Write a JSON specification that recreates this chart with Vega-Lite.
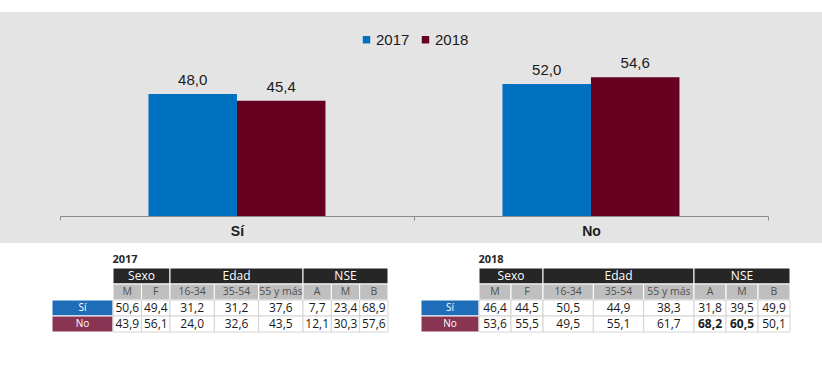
{
  "$schema": "https://vega.github.io/schema/vega-lite/v6.json",
  "background": "#ffffff",
  "padding": {"top": 12, "left": 0, "right": 0, "bottom": 0},
  "spacing": 10,
  "datasets": {
    "bars": [
      {"cat": "Sí", "year": "2017", "value": 48.0},
      {"cat": "Sí", "year": "2018", "value": 45.4},
      {"cat": "No", "year": "2017", "value": 52.0},
      {"cat": "No", "year": "2018", "value": 54.6}
    ],
    "cells": [
      {"year": "2017", "group": "Sexo", "col": "M", "row": "Sí", "value": 50.6},
      {"year": "2017", "group": "Sexo", "col": "F", "row": "Sí", "value": 49.4},
      {"year": "2017", "group": "Edad", "col": "16-34", "row": "Sí", "value": 31.2},
      {"year": "2017", "group": "Edad", "col": "35-54", "row": "Sí", "value": 31.2},
      {"year": "2017", "group": "Edad", "col": "55 y más", "row": "Sí", "value": 37.6},
      {"year": "2017", "group": "NSE", "col": "A", "row": "Sí", "value": 7.7},
      {"year": "2017", "group": "NSE", "col": "M", "row": "Sí", "value": 23.4},
      {"year": "2017", "group": "NSE", "col": "B", "row": "Sí", "value": 68.9},
      {"year": "2017", "group": "Sexo", "col": "M", "row": "No", "value": 43.9},
      {"year": "2017", "group": "Sexo", "col": "F", "row": "No", "value": 56.1},
      {"year": "2017", "group": "Edad", "col": "16-34", "row": "No", "value": 24.0},
      {"year": "2017", "group": "Edad", "col": "35-54", "row": "No", "value": 32.6},
      {"year": "2017", "group": "Edad", "col": "55 y más", "row": "No", "value": 43.5},
      {"year": "2017", "group": "NSE", "col": "A", "row": "No", "value": 12.1},
      {"year": "2017", "group": "NSE", "col": "M", "row": "No", "value": 30.3},
      {"year": "2017", "group": "NSE", "col": "B", "row": "No", "value": 57.6},
      {"year": "2018", "group": "Sexo", "col": "M", "row": "Sí", "value": 46.4},
      {"year": "2018", "group": "Sexo", "col": "F", "row": "Sí", "value": 44.5},
      {"year": "2018", "group": "Edad", "col": "16-34", "row": "Sí", "value": 50.5},
      {"year": "2018", "group": "Edad", "col": "35-54", "row": "Sí", "value": 44.9},
      {"year": "2018", "group": "Edad", "col": "55 y más", "row": "Sí", "value": 38.3},
      {"year": "2018", "group": "NSE", "col": "A", "row": "Sí", "value": 31.8},
      {"year": "2018", "group": "NSE", "col": "M", "row": "Sí", "value": 39.5},
      {"year": "2018", "group": "NSE", "col": "B", "row": "Sí", "value": 49.9},
      {"year": "2018", "group": "Sexo", "col": "M", "row": "No", "value": 53.6},
      {"year": "2018", "group": "Sexo", "col": "F", "row": "No", "value": 55.5},
      {"year": "2018", "group": "Edad", "col": "16-34", "row": "No", "value": 49.5},
      {"year": "2018", "group": "Edad", "col": "35-54", "row": "No", "value": 55.1},
      {"year": "2018", "group": "Edad", "col": "55 y más", "row": "No", "value": 61.7},
      {"year": "2018", "group": "NSE", "col": "A", "row": "No", "value": 68.2},
      {"year": "2018", "group": "NSE", "col": "M", "row": "No", "value": 60.5},
      {"year": "2018", "group": "NSE", "col": "B", "row": "No", "value": 50.1}
    ]
  },
  "vconcat": [
    {
      "width": 822,
      "height": 231,
      "view": {"fill": "#e4e4e4", "stroke": null},
      "data": {"name": "bars"},
      "encoding": {
        "x": {
          "field": "cat", "type": "nominal", "sort": ["Sí", "No"],
          "scale": {"paddingInner": 0, "paddingOuter": 0.161, "align": 0.526},
          "axis": {
            "title": null, "orient": "bottom", "offset": -27,
            "domainColor": "#8c8c8c", "domainDash": [0, 60, 708, 54],
            "tickBand": "extent", "tickColor": "#8c8c8c", "tickSize": 4,
            "labelAngle": 0, "labelFontSize": 14, "labelFontWeight": "bold",
            "labelColor": "#1a1a1a", "labelFont": "Liberation Sans", "labelPadding": 4
          }
        },
        "xOffset": {"field": "year", "type": "nominal", "scale": {"paddingInner": 0, "paddingOuter": 1.08}},
        "y": {"field": "value", "type": "quantitative", "scale": {"domain": [-10.63, 80.31], "nice": false, "zero": false}, "axis": null}
      },
      "layer": [
        {
          "mark": {"type": "bar"},
          "encoding": {
            "y2": {"datum": 0},
            "color": {
              "field": "year", "type": "nominal",
              "scale": {"domain": ["2017", "2018"], "range": ["#0070c0", "#650021"]},
              "legend": {
                "title": null, "orient": "none", "legendX": 359, "legendY": 20,
                "direction": "horizontal", "symbolType": "square", "symbolSize": 55,
                "symbolStrokeWidth": 0, "labelFontSize": 15, "labelFont": "Liberation Sans",
                "labelColor": "#1a1a1a", "columnPadding": 8, "labelOffset": 2, "padding": 0
              }
            }
          }
        },
        {
          "mark": {"type": "text", "baseline": "bottom", "dy": -6, "fontSize": 15, "font": "Liberation Sans", "color": "#1a1a1a"},
          "encoding": {"text": {"field": "value", "type": "quantitative", "format": ".1f"}}
        }
      ]
    },
    {
      "hconcat": [
        {"width": 52, "height": 64, "data": {"values": []}, "mark": "point"},
        {
          "width": 61, "height": 64,
          "data": {"name": "cells"},
          "transform": [{"filter": "datum.year == '2017'"}, {"aggregate": [{"op": "count", "as": "n"}], "groupby": ["row"]}],
          "layer": [
            {"mark": {"type": "rect", "stroke": "#ffffff", "strokeWidth": 1},
             "encoding": {"y": {"field": "row", "type": "nominal", "scale": {"domain": ["h", "s", "Sí", "No"], "paddingInner": 0, "paddingOuter": 0}, "axis": null},
                          "fill": {"condition": {"test": "datum.row == 'Sí'", "value": "#1f6db8"}, "value": "#8a3454"}}},
            {"mark": {"type": "text", "color": "#ffffff", "fontSize": 10, "font": "Open Sans"},
             "encoding": {"y": {"field": "row", "type": "nominal", "scale": {"domain": ["h", "s", "Sí", "No"], "paddingInner": 0, "paddingOuter": 0}, "axis": null}, "text": {"field": "row"}}}
          ]
        },
        {
          "width": 57, "height": 64,
          "title": {"text": "2017", "anchor": "start", "fontSize": 11, "fontWeight": "bold", "color": "#262626", "offset": 3, "font": "Open Sans"},
          "data": {"name": "cells"},
          "transform": [{"filter": "datum.year == '2017' && datum.group == 'Sexo'"}],
          "layer": [
            {"transform": [{"aggregate": [{"op": "count", "as": "n"}], "groupby": ["group"]}],
             "mark": {"type": "rect", "fill": "#262626", "stroke": "#ffffff", "strokeWidth": 1},
             "encoding": {"y": {"datum": "h", "type": "nominal", "scale": {"domain": ["h", "s", "Sí", "No"], "paddingInner": 0, "paddingOuter": 0}, "axis": null}}},
            {"transform": [{"aggregate": [{"op": "count", "as": "n"}], "groupby": ["group"]}],
             "mark": {"type": "text", "color": "#ffffff", "fontSize": 12, "font": "Open Sans"},
             "encoding": {"y": {"datum": "h", "type": "nominal", "scale": {"domain": ["h", "s", "Sí", "No"], "paddingInner": 0, "paddingOuter": 0}, "axis": null}, "text": {"field": "group"}}},
            {"transform": [{"filter": "datum.row == 'Sí'"}],
             "mark": {"type": "rect", "fill": "#bfbfbf", "stroke": "#ffffff", "strokeWidth": 1},
             "encoding": {"x": {"field": "col", "type": "nominal", "scale": {"domain": ["M", "F"], "paddingInner": 0, "paddingOuter": 0}, "axis": null},
                          "y": {"datum": "s", "type": "nominal", "scale": {"domain": ["h", "s", "Sí", "No"], "paddingInner": 0, "paddingOuter": 0}, "axis": null}}},
            {"transform": [{"filter": "datum.row == 'Sí'"}],
             "mark": {"type": "text", "color": "#505050", "fontSize": 10.5, "font": "Open Sans"},
             "encoding": {"x": {"field": "col", "type": "nominal", "scale": {"domain": ["M", "F"], "paddingInner": 0, "paddingOuter": 0}, "axis": null},
                          "y": {"datum": "s", "type": "nominal", "scale": {"domain": ["h", "s", "Sí", "No"], "paddingInner": 0, "paddingOuter": 0}, "axis": null}, "text": {"field": "col"}}},
            {"mark": {"type": "rect", "fill": "#ffffff", "stroke": "#d4d4d4", "strokeWidth": 1},
             "encoding": {"x": {"field": "col", "type": "nominal", "scale": {"domain": ["M", "F"], "paddingInner": 0, "paddingOuter": 0}, "axis": null},
                          "y": {"field": "row", "type": "nominal", "scale": {"domain": ["h", "s", "Sí", "No"], "paddingInner": 0, "paddingOuter": 0}, "axis": null}}},
            {"transform": [{"filter": "!(datum.value >= 60 && datum.group == 'NSE')"}],
             "mark": {"type": "text", "color": "#1a1a1a", "fontSize": 12, "font": "Open Sans"},
             "encoding": {"x": {"field": "col", "type": "nominal", "scale": {"domain": ["M", "F"], "paddingInner": 0, "paddingOuter": 0}, "axis": null},
                          "y": {"field": "row", "type": "nominal", "scale": {"domain": ["h", "s", "Sí", "No"], "paddingInner": 0, "paddingOuter": 0}, "axis": null},
                          "text": {"field": "value", "type": "quantitative", "format": ".1f"}}}
          ]
        },
        {
          "width": 133, "height": 64,
          "data": {"name": "cells"},
          "transform": [{"filter": "datum.year == '2017' && datum.group == 'Edad'"}],
          "layer": [
            {"transform": [{"aggregate": [{"op": "count", "as": "n"}], "groupby": ["group"]}],
             "mark": {"type": "rect", "fill": "#262626", "stroke": "#ffffff", "strokeWidth": 1},
             "encoding": {"y": {"datum": "h", "type": "nominal", "scale": {"domain": ["h", "s", "Sí", "No"], "paddingInner": 0, "paddingOuter": 0}, "axis": null}}},
            {"transform": [{"aggregate": [{"op": "count", "as": "n"}], "groupby": ["group"]}],
             "mark": {"type": "text", "color": "#ffffff", "fontSize": 12, "font": "Open Sans"},
             "encoding": {"y": {"datum": "h", "type": "nominal", "scale": {"domain": ["h", "s", "Sí", "No"], "paddingInner": 0, "paddingOuter": 0}, "axis": null}, "text": {"field": "group"}}},
            {"transform": [{"filter": "datum.row == 'Sí'"}],
             "mark": {"type": "rect", "fill": "#bfbfbf", "stroke": "#ffffff", "strokeWidth": 1},
             "encoding": {"x": {"field": "col", "type": "nominal", "scale": {"domain": ["16-34", "35-54", "55 y más"], "paddingInner": 0, "paddingOuter": 0}, "axis": null},
                          "y": {"datum": "s", "type": "nominal", "scale": {"domain": ["h", "s", "Sí", "No"], "paddingInner": 0, "paddingOuter": 0}, "axis": null}}},
            {"transform": [{"filter": "datum.row == 'Sí'"}],
             "mark": {"type": "text", "color": "#505050", "fontSize": 10.5, "font": "Open Sans"},
             "encoding": {"x": {"field": "col", "type": "nominal", "scale": {"domain": ["16-34", "35-54", "55 y más"], "paddingInner": 0, "paddingOuter": 0}, "axis": null},
                          "y": {"datum": "s", "type": "nominal", "scale": {"domain": ["h", "s", "Sí", "No"], "paddingInner": 0, "paddingOuter": 0}, "axis": null}, "text": {"field": "col"}}},
            {"mark": {"type": "rect", "fill": "#ffffff", "stroke": "#d4d4d4", "strokeWidth": 1},
             "encoding": {"x": {"field": "col", "type": "nominal", "scale": {"domain": ["16-34", "35-54", "55 y más"], "paddingInner": 0, "paddingOuter": 0}, "axis": null},
                          "y": {"field": "row", "type": "nominal", "scale": {"domain": ["h", "s", "Sí", "No"], "paddingInner": 0, "paddingOuter": 0}, "axis": null}}},
            {"transform": [{"filter": "!(datum.value >= 60 && datum.group == 'NSE')"}],
             "mark": {"type": "text", "color": "#1a1a1a", "fontSize": 12, "font": "Open Sans"},
             "encoding": {"x": {"field": "col", "type": "nominal", "scale": {"domain": ["16-34", "35-54", "55 y más"], "paddingInner": 0, "paddingOuter": 0}, "axis": null},
                          "y": {"field": "row", "type": "nominal", "scale": {"domain": ["h", "s", "Sí", "No"], "paddingInner": 0, "paddingOuter": 0}, "axis": null},
                          "text": {"field": "value", "type": "quantitative", "format": ".1f"}}}
          ]
        },
        {
          "width": 85, "height": 64,
          "data": {"name": "cells"},
          "transform": [{"filter": "datum.year == '2017' && datum.group == 'NSE'"}],
          "layer": [
            {"transform": [{"aggregate": [{"op": "count", "as": "n"}], "groupby": ["group"]}],
             "mark": {"type": "rect", "fill": "#262626", "stroke": "#ffffff", "strokeWidth": 1},
             "encoding": {"y": {"datum": "h", "type": "nominal", "scale": {"domain": ["h", "s", "Sí", "No"], "paddingInner": 0, "paddingOuter": 0}, "axis": null}}},
            {"transform": [{"aggregate": [{"op": "count", "as": "n"}], "groupby": ["group"]}],
             "mark": {"type": "text", "color": "#ffffff", "fontSize": 12, "font": "Open Sans"},
             "encoding": {"y": {"datum": "h", "type": "nominal", "scale": {"domain": ["h", "s", "Sí", "No"], "paddingInner": 0, "paddingOuter": 0}, "axis": null}, "text": {"field": "group"}}},
            {"transform": [{"filter": "datum.row == 'Sí'"}],
             "mark": {"type": "rect", "fill": "#bfbfbf", "stroke": "#ffffff", "strokeWidth": 1},
             "encoding": {"x": {"field": "col", "type": "nominal", "scale": {"domain": ["A", "M", "B"], "paddingInner": 0, "paddingOuter": 0}, "axis": null},
                          "y": {"datum": "s", "type": "nominal", "scale": {"domain": ["h", "s", "Sí", "No"], "paddingInner": 0, "paddingOuter": 0}, "axis": null}}},
            {"transform": [{"filter": "datum.row == 'Sí'"}],
             "mark": {"type": "text", "color": "#505050", "fontSize": 10.5, "font": "Open Sans"},
             "encoding": {"x": {"field": "col", "type": "nominal", "scale": {"domain": ["A", "M", "B"], "paddingInner": 0, "paddingOuter": 0}, "axis": null},
                          "y": {"datum": "s", "type": "nominal", "scale": {"domain": ["h", "s", "Sí", "No"], "paddingInner": 0, "paddingOuter": 0}, "axis": null}, "text": {"field": "col"}}},
            {"mark": {"type": "rect", "fill": "#ffffff", "stroke": "#d4d4d4", "strokeWidth": 1},
             "encoding": {"x": {"field": "col", "type": "nominal", "scale": {"domain": ["A", "M", "B"], "paddingInner": 0, "paddingOuter": 0}, "axis": null},
                          "y": {"field": "row", "type": "nominal", "scale": {"domain": ["h", "s", "Sí", "No"], "paddingInner": 0, "paddingOuter": 0}, "axis": null}}},
            {"transform": [{"filter": "!(datum.value >= 60 && datum.group == 'NSE')"}],
             "mark": {"type": "text", "color": "#1a1a1a", "fontSize": 12, "font": "Open Sans"},
             "encoding": {"x": {"field": "col", "type": "nominal", "scale": {"domain": ["A", "M", "B"], "paddingInner": 0, "paddingOuter": 0}, "axis": null},
                          "y": {"field": "row", "type": "nominal", "scale": {"domain": ["h", "s", "Sí", "No"], "paddingInner": 0, "paddingOuter": 0}, "axis": null},
                          "text": {"field": "value", "type": "quantitative", "format": ".1f"}}},
            {"transform": [{"filter": "datum.value >= 60 && datum.group == 'NSE' && datum.year == '2018'"}],
             "mark": {"type": "text", "color": "#1a1a1a", "fontSize": 12, "font": "Open Sans", "fontWeight": "bold"},
             "encoding": {"x": {"field": "col", "type": "nominal", "scale": {"domain": ["A", "M", "B"], "paddingInner": 0, "paddingOuter": 0}, "axis": null},
                          "y": {"field": "row", "type": "nominal", "scale": {"domain": ["h", "s", "Sí", "No"], "paddingInner": 0, "paddingOuter": 0}, "axis": null},
                          "text": {"field": "value", "type": "quantitative", "format": ".1f"}}},
            {"transform": [{"filter": "datum.value >= 60 && datum.group == 'NSE' && datum.year == '2017'"}],
             "mark": {"type": "text", "color": "#1a1a1a", "fontSize": 12, "font": "Open Sans"},
             "encoding": {"x": {"field": "col", "type": "nominal", "scale": {"domain": ["A", "M", "B"], "paddingInner": 0, "paddingOuter": 0}, "axis": null},
                          "y": {"field": "row", "type": "nominal", "scale": {"domain": ["h", "s", "Sí", "No"], "paddingInner": 0, "paddingOuter": 0}, "axis": null},
                          "text": {"field": "value", "type": "quantitative", "format": ".1f"}}}
          ]
        },
        {"width": 33, "height": 64, "data": {"values": []}, "mark": "point"},
        {
          "width": 58, "height": 64,
          "data": {"name": "cells"},
          "transform": [{"filter": "datum.year == '2018'"}, {"aggregate": [{"op": "count", "as": "n"}], "groupby": ["row"]}],
          "layer": [
            {"mark": {"type": "rect", "stroke": "#ffffff", "strokeWidth": 1},
             "encoding": {"y": {"field": "row", "type": "nominal", "scale": {"domain": ["h", "s", "Sí", "No"], "paddingInner": 0, "paddingOuter": 0}, "axis": null},
                          "fill": {"condition": {"test": "datum.row == 'Sí'", "value": "#1f6db8"}, "value": "#8a3454"}}},
            {"mark": {"type": "text", "color": "#ffffff", "fontSize": 10, "font": "Open Sans"},
             "encoding": {"y": {"field": "row", "type": "nominal", "scale": {"domain": ["h", "s", "Sí", "No"], "paddingInner": 0, "paddingOuter": 0}, "axis": null}, "text": {"field": "row"}}}
          ]
        },
        {
          "width": 64, "height": 64,
          "title": {"text": "2018", "anchor": "start", "fontSize": 11, "fontWeight": "bold", "color": "#262626", "offset": 3, "font": "Open Sans"},
          "data": {"name": "cells"},
          "transform": [{"filter": "datum.year == '2018' && datum.group == 'Sexo'"}],
          "layer": [
            {"transform": [{"aggregate": [{"op": "count", "as": "n"}], "groupby": ["group"]}],
             "mark": {"type": "rect", "fill": "#262626", "stroke": "#ffffff", "strokeWidth": 1},
             "encoding": {"y": {"datum": "h", "type": "nominal", "scale": {"domain": ["h", "s", "Sí", "No"], "paddingInner": 0, "paddingOuter": 0}, "axis": null}}},
            {"transform": [{"aggregate": [{"op": "count", "as": "n"}], "groupby": ["group"]}],
             "mark": {"type": "text", "color": "#ffffff", "fontSize": 12, "font": "Open Sans"},
             "encoding": {"y": {"datum": "h", "type": "nominal", "scale": {"domain": ["h", "s", "Sí", "No"], "paddingInner": 0, "paddingOuter": 0}, "axis": null}, "text": {"field": "group"}}},
            {"transform": [{"filter": "datum.row == 'Sí'"}],
             "mark": {"type": "rect", "fill": "#bfbfbf", "stroke": "#ffffff", "strokeWidth": 1},
             "encoding": {"x": {"field": "col", "type": "nominal", "scale": {"domain": ["M", "F"], "paddingInner": 0, "paddingOuter": 0}, "axis": null},
                          "y": {"datum": "s", "type": "nominal", "scale": {"domain": ["h", "s", "Sí", "No"], "paddingInner": 0, "paddingOuter": 0}, "axis": null}}},
            {"transform": [{"filter": "datum.row == 'Sí'"}],
             "mark": {"type": "text", "color": "#505050", "fontSize": 10.5, "font": "Open Sans"},
             "encoding": {"x": {"field": "col", "type": "nominal", "scale": {"domain": ["M", "F"], "paddingInner": 0, "paddingOuter": 0}, "axis": null},
                          "y": {"datum": "s", "type": "nominal", "scale": {"domain": ["h", "s", "Sí", "No"], "paddingInner": 0, "paddingOuter": 0}, "axis": null}, "text": {"field": "col"}}},
            {"mark": {"type": "rect", "fill": "#ffffff", "stroke": "#d4d4d4", "strokeWidth": 1},
             "encoding": {"x": {"field": "col", "type": "nominal", "scale": {"domain": ["M", "F"], "paddingInner": 0, "paddingOuter": 0}, "axis": null},
                          "y": {"field": "row", "type": "nominal", "scale": {"domain": ["h", "s", "Sí", "No"], "paddingInner": 0, "paddingOuter": 0}, "axis": null}}},
            {"mark": {"type": "text", "color": "#1a1a1a", "fontSize": 12, "font": "Open Sans"},
             "encoding": {"x": {"field": "col", "type": "nominal", "scale": {"domain": ["M", "F"], "paddingInner": 0, "paddingOuter": 0}, "axis": null},
                          "y": {"field": "row", "type": "nominal", "scale": {"domain": ["h", "s", "Sí", "No"], "paddingInner": 0, "paddingOuter": 0}, "axis": null},
                          "text": {"field": "value", "type": "quantitative", "format": ".1f"}}}
          ]
        },
        {
          "width": 151, "height": 64,
          "data": {"name": "cells"},
          "transform": [{"filter": "datum.year == '2018' && datum.group == 'Edad'"}],
          "layer": [
            {"transform": [{"aggregate": [{"op": "count", "as": "n"}], "groupby": ["group"]}],
             "mark": {"type": "rect", "fill": "#262626", "stroke": "#ffffff", "strokeWidth": 1},
             "encoding": {"y": {"datum": "h", "type": "nominal", "scale": {"domain": ["h", "s", "Sí", "No"], "paddingInner": 0, "paddingOuter": 0}, "axis": null}}},
            {"transform": [{"aggregate": [{"op": "count", "as": "n"}], "groupby": ["group"]}],
             "mark": {"type": "text", "color": "#ffffff", "fontSize": 12, "font": "Open Sans"},
             "encoding": {"y": {"datum": "h", "type": "nominal", "scale": {"domain": ["h", "s", "Sí", "No"], "paddingInner": 0, "paddingOuter": 0}, "axis": null}, "text": {"field": "group"}}},
            {"transform": [{"filter": "datum.row == 'Sí'"}],
             "mark": {"type": "rect", "fill": "#bfbfbf", "stroke": "#ffffff", "strokeWidth": 1},
             "encoding": {"x": {"field": "col", "type": "nominal", "scale": {"domain": ["16-34", "35-54", "55 y más"], "paddingInner": 0, "paddingOuter": 0}, "axis": null},
                          "y": {"datum": "s", "type": "nominal", "scale": {"domain": ["h", "s", "Sí", "No"], "paddingInner": 0, "paddingOuter": 0}, "axis": null}}},
            {"transform": [{"filter": "datum.row == 'Sí'"}],
             "mark": {"type": "text", "color": "#505050", "fontSize": 10.5, "font": "Open Sans"},
             "encoding": {"x": {"field": "col", "type": "nominal", "scale": {"domain": ["16-34", "35-54", "55 y más"], "paddingInner": 0, "paddingOuter": 0}, "axis": null},
                          "y": {"datum": "s", "type": "nominal", "scale": {"domain": ["h", "s", "Sí", "No"], "paddingInner": 0, "paddingOuter": 0}, "axis": null}, "text": {"field": "col"}}},
            {"mark": {"type": "rect", "fill": "#ffffff", "stroke": "#d4d4d4", "strokeWidth": 1},
             "encoding": {"x": {"field": "col", "type": "nominal", "scale": {"domain": ["16-34", "35-54", "55 y más"], "paddingInner": 0, "paddingOuter": 0}, "axis": null},
                          "y": {"field": "row", "type": "nominal", "scale": {"domain": ["h", "s", "Sí", "No"], "paddingInner": 0, "paddingOuter": 0}, "axis": null}}},
            {"mark": {"type": "text", "color": "#1a1a1a", "fontSize": 12, "font": "Open Sans"},
             "encoding": {"x": {"field": "col", "type": "nominal", "scale": {"domain": ["16-34", "35-54", "55 y más"], "paddingInner": 0, "paddingOuter": 0}, "axis": null},
                          "y": {"field": "row", "type": "nominal", "scale": {"domain": ["h", "s", "Sí", "No"], "paddingInner": 0, "paddingOuter": 0}, "axis": null},
                          "text": {"field": "value", "type": "quantitative", "format": ".1f"}}}
          ]
        },
        {
          "width": 96, "height": 64,
          "data": {"name": "cells"},
          "transform": [{"filter": "datum.year == '2018' && datum.group == 'NSE'"}],
          "layer": [
            {"transform": [{"aggregate": [{"op": "count", "as": "n"}], "groupby": ["group"]}],
             "mark": {"type": "rect", "fill": "#262626", "stroke": "#ffffff", "strokeWidth": 1},
             "encoding": {"y": {"datum": "h", "type": "nominal", "scale": {"domain": ["h", "s", "Sí", "No"], "paddingInner": 0, "paddingOuter": 0}, "axis": null}}},
            {"transform": [{"aggregate": [{"op": "count", "as": "n"}], "groupby": ["group"]}],
             "mark": {"type": "text", "color": "#ffffff", "fontSize": 12, "font": "Open Sans"},
             "encoding": {"y": {"datum": "h", "type": "nominal", "scale": {"domain": ["h", "s", "Sí", "No"], "paddingInner": 0, "paddingOuter": 0}, "axis": null}, "text": {"field": "group"}}},
            {"transform": [{"filter": "datum.row == 'Sí'"}],
             "mark": {"type": "rect", "fill": "#bfbfbf", "stroke": "#ffffff", "strokeWidth": 1},
             "encoding": {"x": {"field": "col", "type": "nominal", "scale": {"domain": ["A", "M", "B"], "paddingInner": 0, "paddingOuter": 0}, "axis": null},
                          "y": {"datum": "s", "type": "nominal", "scale": {"domain": ["h", "s", "Sí", "No"], "paddingInner": 0, "paddingOuter": 0}, "axis": null}}},
            {"transform": [{"filter": "datum.row == 'Sí'"}],
             "mark": {"type": "text", "color": "#505050", "fontSize": 10.5, "font": "Open Sans"},
             "encoding": {"x": {"field": "col", "type": "nominal", "scale": {"domain": ["A", "M", "B"], "paddingInner": 0, "paddingOuter": 0}, "axis": null},
                          "y": {"datum": "s", "type": "nominal", "scale": {"domain": ["h", "s", "Sí", "No"], "paddingInner": 0, "paddingOuter": 0}, "axis": null}, "text": {"field": "col"}}},
            {"mark": {"type": "rect", "fill": "#ffffff", "stroke": "#d4d4d4", "strokeWidth": 1},
             "encoding": {"x": {"field": "col", "type": "nominal", "scale": {"domain": ["A", "M", "B"], "paddingInner": 0, "paddingOuter": 0}, "axis": null},
                          "y": {"field": "row", "type": "nominal", "scale": {"domain": ["h", "s", "Sí", "No"], "paddingInner": 0, "paddingOuter": 0}, "axis": null}}},
            {"transform": [{"filter": "!(datum.value >= 60)"}],
             "mark": {"type": "text", "color": "#1a1a1a", "fontSize": 12, "font": "Open Sans"},
             "encoding": {"x": {"field": "col", "type": "nominal", "scale": {"domain": ["A", "M", "B"], "paddingInner": 0, "paddingOuter": 0}, "axis": null},
                          "y": {"field": "row", "type": "nominal", "scale": {"domain": ["h", "s", "Sí", "No"], "paddingInner": 0, "paddingOuter": 0}, "axis": null},
                          "text": {"field": "value", "type": "quantitative", "format": ".1f"}}},
            {"transform": [{"filter": "datum.value >= 60"}],
             "mark": {"type": "text", "color": "#1a1a1a", "fontSize": 12, "font": "Open Sans", "fontWeight": "bold"},
             "encoding": {"x": {"field": "col", "type": "nominal", "scale": {"domain": ["A", "M", "B"], "paddingInner": 0, "paddingOuter": 0}, "axis": null},
                          "y": {"field": "row", "type": "nominal", "scale": {"domain": ["h", "s", "Sí", "No"], "paddingInner": 0, "paddingOuter": 0}, "axis": null},
                          "text": {"field": "value", "type": "quantitative", "format": ".1f"}}}
          ]
        }
      ],
      "spacing": 0,
      "bounds": "flush"
    }
  ],
  "config": {
    "view": {"stroke": null},
    "locale": {"number": {"decimal": ",", "thousands": ".", "grouping": [3], "currency": ["", " €"]}}
  }
}
